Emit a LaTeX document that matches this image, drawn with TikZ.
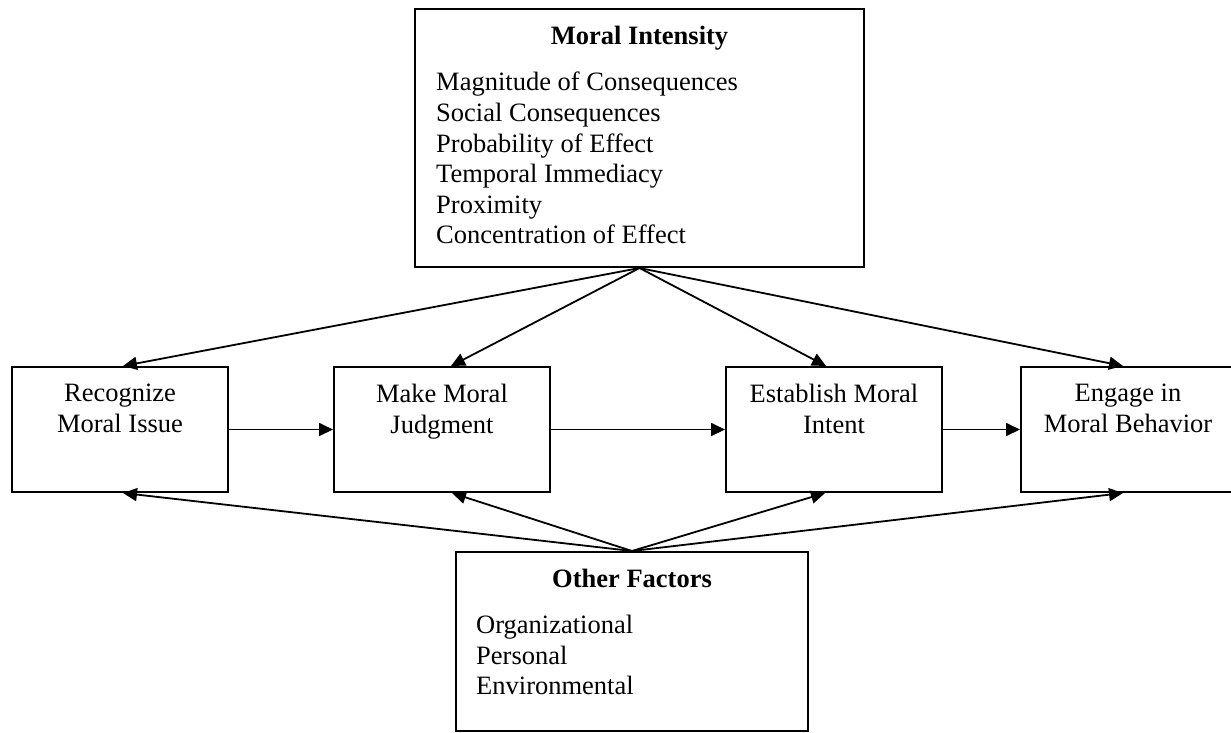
\documentclass[tikz,border=0pt]{standalone}
\usepackage{fontspec}
\setmainfont{Liberation Serif}
\usetikzlibrary{arrows.meta}
\tikzset{
  box/.style={draw,line width=2pt,inner sep=0pt},
  stage/.style={box,minimum width=216pt,minimum height=125pt},
  txt/.style={inner sep=0pt,font=\fontsize{26.5}{30.6}\selectfont},
  heading/.style={inner sep=0pt,font=\fontsize{26.5}{30.6}\selectfont\bfseries},
  link/.style={line width=1.8pt,-{Triangle[length=14pt,width=13pt]}}
}
\begin{document}
\begin{tikzpicture}[x=1pt,y=-1pt]
\useasboundingbox (0,0) rectangle (1231,732);
\node[box,minimum width=449pt,minimum height=258pt] (intensity) at (639.5,138) {};
\node[heading,anchor=base] (intensity-title) at (639.5,44) {Moral Intensity};
\node[txt,align=left,anchor=north west] (intensity-list) at (436,72) {Magnitude of Consequences\\Social Consequences\\Probability of Effect\\Temporal Immediacy\\Proximity\\Concentration of Effect};
\node[stage] (recognize) at (120,429.5) {};
\node[stage] (judgment) at (442,429.5) {};
\node[stage] (intent) at (834,429.5) {};
\node[stage] (behavior) at (1129,429.5) {};
\node[txt,align=center,anchor=north] (recognize-text) at (120,384) {Recognize\\Moral Issue};
\node[txt,align=center,anchor=north] (judgment-text) at (442,384) {Make Moral\\Judgment};
\node[txt,align=center,anchor=north] (intent-text) at (834,384) {Establish Moral\\Intent};
\node[txt,align=center,anchor=north] (behavior-text) at (1128,384) {Engage in\\Moral Behavior};
\node[box,minimum width=352pt,minimum height=179pt] (factors) at (632,641.5) {};
\node[heading,anchor=base] (factors-title) at (632,587) {Other Factors};
\node[txt,align=left,anchor=north west] (factors-list) at (476,615) {Organizational\\Personal\\Environmental};
\foreach \n/\dx in {recognize/3,judgment/9,intent/-8,behavior/-6}
  \draw[link] (intensity.south) -- ([xshift=\dx pt]\n.north);
\foreach \n/\dx in {recognize/3,judgment/10,intent/-9,behavior/-6}
  \draw[link] (factors.north) -- ([xshift=\dx pt]\n.south);
\draw[link] (recognize) -- (judgment);
\draw[link] (judgment) -- (intent);
\draw[link] (intent) -- (behavior);
\end{tikzpicture}
\end{document}
